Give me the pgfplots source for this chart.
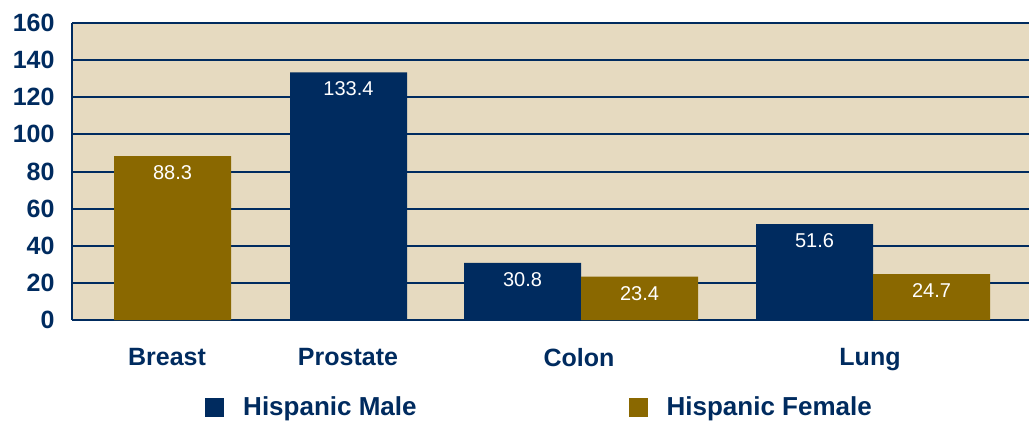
\documentclass[border=0pt]{standalone}
\usepackage{fontspec}
\setmainfont{Liberation Sans}
\usepackage{pgfplots}
\pgfplotsset{compat=1.18}
\definecolor{navy}{HTML}{002B5F}
\definecolor{gold}{HTML}{8A6800}
\definecolor{beige}{HTML}{E6DAC0}
\begin{document}
\begin{tikzpicture}
\begin{axis}[
  scale only axis, width=957pt, height=297pt,
  xmin=72, xmax=1029, ymin=0, ymax=160,
  axis x line*=bottom, axis y line*=left,
  axis line style={navy, line width=2pt, -},
  axis background/.style={fill=beige},
  ytick={0,20,...,160},
  ymajorgrids, grid style={navy, line width=2pt},
  major tick length=0pt,
  xtick={167,348,579,870}, xticklabels={Breast,Prostate,Colon,Lung},
  tick label style={font=\fontsize{25}{25}\selectfont\bfseries, text=navy},
  /pgf/number format/assume math mode=true,
  xticklabel style={yshift=-25pt},
  yticklabel style={xshift=-14pt},
  ybar, bar width=117pt, bar shift=0pt,
  nodes near coords,
  nodes near coords style={font=\fontsize{20}{20}\selectfont, text=white, anchor=north, yshift=-6pt},
  legend columns=2,
  legend image code/.code={\fill[#1] (0pt,-9.5pt) rectangle (19pt,9.5pt);},
  legend style={at={(axis description cs:0.139,-0.293)}, anchor=west, draw=none, fill=none, inner sep=0pt,
    font=\fontsize{26}{26}\selectfont\bfseries, text=navy,
    /tikz/every odd column/.append style={column sep=17pt},
    /tikz/every even column/.append style={column sep=210pt}},
]
\addplot[fill=navy, draw=none] coordinates {(348.5,133.4) (522.5,30.8) (814.5,51.6)};
\addplot[fill=gold, draw=none] coordinates {(172.5,88.3) (639.5,23.4) (931.5,24.7)};
\legend{Hispanic Male, Hispanic Female}
\end{axis}
\pgfresetboundingbox
\path (current axis.south west) ++(-72pt,-101pt) rectangle ([yshift=23pt]current axis.north east);
\end{tikzpicture}
\end{document}
